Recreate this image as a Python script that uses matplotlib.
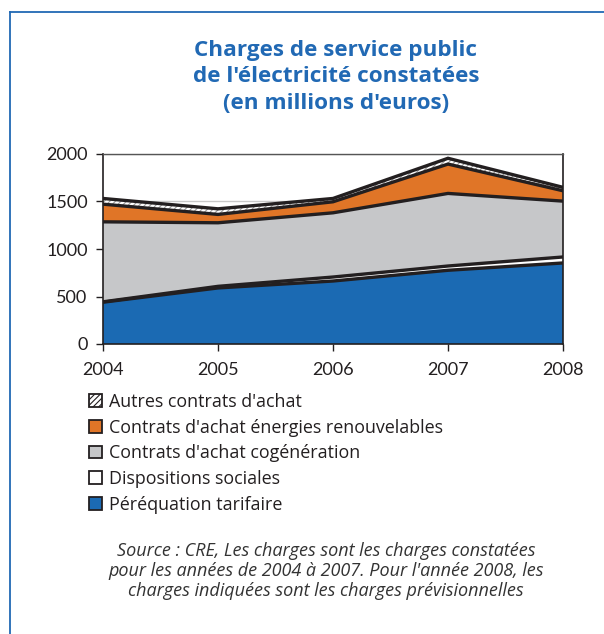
import numpy as np
import matplotlib.pyplot as plt
from matplotlib.patches import Patch
from matplotlib.lines import Line2D

plt.rcParams['font.family'] = ['Lato', 'DejaVu Sans']
plt.rcParams['hatch.linewidth'] = 0.8

years = [2004, 2005, 2006, 2007, 2008]
perequation = [440, 590, 663, 776, 853]
dispositions = [4, 17, 42, 45, 63]
cogeneration = [842, 669, 676, 764, 588]
renouvelables = [186, 88, 116, 309, 109]
autres = [60, 59, 35, 61, 36]

labels = ["Péréquation tarifaire", "Dispositions sociales",
          "Contrats d'achat cogénération",
          "Contrats d'achat énergies renouvelables",
          "Autres contrats d'achat"]
colors = ["#1b6ab3", "#ffffff", "#c6c7c9", "#e07527", "#ffffff"]
dark = "#231f20"
blue = "#2169b4"
text_font = ['Open Sans', 'DejaVu Sans']

fig = plt.figure(figsize=(6.04, 6.34), dpi=100)
ax = fig.add_axes([103 / 604, 1 - 344 / 634, 460 / 604, 190 / 634])

layers = [perequation, dispositions, cogeneration, renouvelables, autres]
base = np.zeros(len(years))
tops = []
for i, vals in enumerate(layers):
    top = base + np.array(vals)
    if i == 4:
        ax.fill_between(years, base, top, facecolor="white", edgecolor="#9a9a9a",
                        hatch="//////", linewidth=0, zorder=2)
    else:
        ax.fill_between(years, base, top, facecolor=colors[i], linewidth=0, zorder=2)
    tops.append(top)
    base = top

for top in tops:
    ax.plot(years, top, color=dark, lw=2.4, zorder=3, solid_joinstyle="miter")

ax.set_xlim(2004, 2008)
ax.set_ylim(0, 2000)
ax.set_xticks(years)
ax.set_yticks([0, 500, 1000, 1500, 2000])
ax.yaxis.grid(True, color="#c8c8c8", lw=1)
ax.set_axisbelow(True)
for s in ax.spines.values():
    s.set_color(dark)
    s.set_linewidth(1.2)
ax.spines["top"].set_color("#555555")
ax.spines["top"].set_linewidth(1.0)
ax.tick_params(axis="both", colors=dark, labelsize=13, length=5, width=1.0)
ax.tick_params(axis="y", pad=6)
ax.tick_params(axis="x", pad=8)

# legend, top entry first
handles = [Patch(facecolor="white", edgecolor=dark, hatch="//////", lw=1.3),
           Patch(facecolor=colors[3], edgecolor=dark, lw=1.3),
           Patch(facecolor=colors[2], edgecolor=dark, lw=1.3),
           Patch(facecolor=colors[1], edgecolor=dark, lw=1.3),
           Patch(facecolor=colors[0], edgecolor=dark, lw=1.3)]
leg_labels = labels[::-1]
fig.legend(handles, leg_labels, loc="upper left",
           bbox_to_anchor=(80 / 604, 1 - 384 / 634), frameon=False,
           prop={"family": text_font, "size": 12.9}, labelspacing=0.43,
           handlelength=0.72, handleheight=0.72,
           handletextpad=0.4, borderpad=0, labelcolor="#231f20")

fig.text(336 / 604, 1 - 77 / 634,
         "Charges de service public\nde l'électricité constatées\n(en millions d'euros)",
         ha="center", va="center", fontsize=16.2, fontweight="bold",
         family=text_font, color=blue, linespacing=1.36)

fig.text(326 / 604, 1 - 571 / 634,
         "Source : CRE, Les charges sont les charges constatées\n"
         "pour les années de 2004 à 2007. Pour l'année 2008, les\n"
         "charges indiquées sont les charges prévisionnelles",
         ha="center", va="center", fontsize=13, style="italic",
         family=text_font, color="#333333", linespacing=1.15)

# blue frame along the left and top
fig.add_artist(Line2D([10 / 604, 10 / 604], [0, 1 - 12 / 634], color=blue, lw=1.3))
fig.add_artist(Line2D([10 / 604, 1], [1 - 12 / 634, 1 - 12 / 634], color=blue, lw=1.3))

fig.savefig("out.png", dpi=100)
